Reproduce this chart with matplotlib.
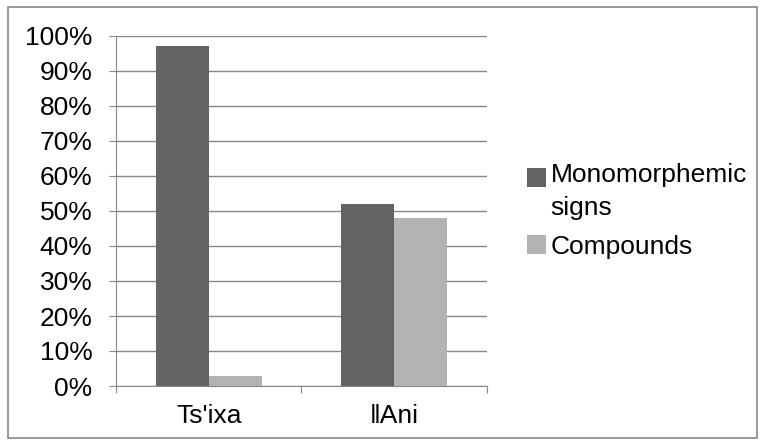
import matplotlib
matplotlib.use("Agg")
import matplotlib.pyplot as plt
from matplotlib.patches import Rectangle
from matplotlib.legend_handler import HandlerPatch
from matplotlib.ticker import PercentFormatter
import numpy as np

categories = ["Ts'ixa", "ǁAni"]
series_names = ["Monomorphemic\nsigns", "Compounds"]
monomorphemic = [97, 52]
compounds = [3, 48]
colors = ["#636363", "#b3b3b3"]

plt.rcParams['font.family'] = ['Liberation Sans', 'DejaVu Sans']

W, H = 765, 446
fig = plt.figure(figsize=(W / 100, H / 100), dpi=100)
fig.patches.append(Rectangle((8 / W, 1 - 438 / H), 749 / W, 431 / H, transform=fig.transFigure,
                             fill=False, edgecolor="#888888", linewidth=1.2))

ax = fig.add_axes([116 / W, 1 - 386 / H, (487 - 116) / W, 350 / H])
x = np.arange(len(categories))
bw = 0.285
b1 = ax.bar(x - bw / 2, monomorphemic, bw, color=colors[0])
b2 = ax.bar(x + bw / 2, compounds, bw, color=colors[1])

ax.set_xlim(-0.5, 1.5)
ax.set_ylim(0, 100)
ax.set_yticks(range(0, 101, 10))
ax.yaxis.set_major_formatter(PercentFormatter(decimals=0))
ax.yaxis.grid(True, color="#888888", linewidth=1)
ax.set_axisbelow(True)
ax.set_xticks([-0.5, 0.5, 1.5])
ax.set_xticklabels([])
ax.set_xticks(x, minor=True)
ax.set_xticklabels(categories, minor=True, fontsize=19)
ax.tick_params(axis='x', which='minor', length=0, pad=13)
ax.tick_params(axis='x', which='major', length=5, color="#888888")
ax.tick_params(axis='y', length=5, color="#888888", labelsize=19, pad=12)
for s in ["top", "right"]:
    ax.spines[s].set_visible(False)
for s in ["left", "bottom"]:
    ax.spines[s].set_color("#888888")


# square of a two-line entry sits beside the first line, as in Excel
def top_square(legend, orig_handle, xdescent, ydescent, width, height, fontsize):
    return Rectangle((-xdescent, -ydescent + 10.5), width, height)


leg = ax.legend([b1[0], b2[0]], series_names, loc="center left", bbox_to_anchor=(1.043, 0.5),
                frameon=False, fontsize=19, handlelength=0.75, handleheight=0.75,
                handletextpad=0.15, labelspacing=0.55,
                handler_map={b1[0]: HandlerPatch(patch_func=top_square)})
for t in leg.get_texts():
    t.set_linespacing(1.45)

fig.savefig("out.png", dpi=100)
